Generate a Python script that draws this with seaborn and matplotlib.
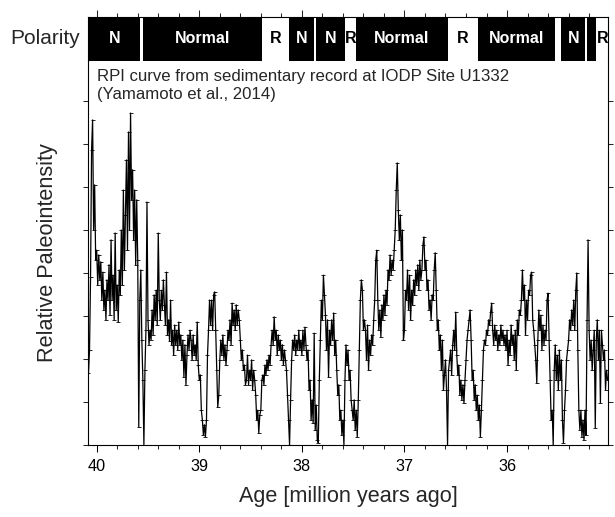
import numpy as np
import pandas as pd
import seaborn as sns
import matplotlib.pyplot as plt
from matplotlib.ticker import MultipleLocator

# Age of each RPI sample (million years ago)
age = [
    40.08, 40.07, 40.06, 40.05, 40.04, 40.03, 40.02, 40.01, 40.00, 39.99,
    39.98, 39.97, 39.96, 39.95, 39.94, 39.93, 39.92, 39.91, 39.90, 39.89,
    39.88, 39.87, 39.86, 39.85, 39.84, 39.83, 39.82, 39.81, 39.80, 39.79,
    39.78, 39.77, 39.76, 39.75, 39.74, 39.73, 39.72, 39.71, 39.70, 39.69,
    39.68, 39.67, 39.66, 39.65, 39.64, 39.63, 39.62, 39.61, 39.60, 39.59,
    39.58, 39.57, 39.56, 39.55, 39.54, 39.53, 39.52, 39.51, 39.50, 39.49,
    39.48, 39.47, 39.46, 39.45, 39.44, 39.43, 39.42, 39.41, 39.40, 39.39,
    39.38, 39.37, 39.36, 39.35, 39.34, 39.33, 39.32, 39.31, 39.30, 39.29,
    39.28, 39.27, 39.26, 39.25, 39.24, 39.23, 39.22, 39.21, 39.20, 39.19,
    39.18, 39.17, 39.16, 39.15, 39.14, 39.13, 39.12, 39.11, 39.10, 39.09,
    39.08, 39.07, 39.06, 39.05, 39.04, 39.03, 39.02, 39.01, 39.00, 38.99,
    38.98, 38.97, 38.96, 38.95, 38.94, 38.93, 38.92, 38.91, 38.90, 38.89,
    38.88, 38.87, 38.86, 38.85, 38.84, 38.83, 38.82, 38.81, 38.80, 38.79,
    38.78, 38.77, 38.76, 38.75, 38.74, 38.73, 38.72, 38.71, 38.70, 38.69,
    38.68, 38.67, 38.66, 38.65, 38.64, 38.63, 38.62, 38.61, 38.60, 38.59,
    38.58, 38.57, 38.56, 38.55, 38.54, 38.53, 38.52, 38.51, 38.50, 38.49,
    38.48, 38.47, 38.46, 38.45, 38.44, 38.43, 38.42, 38.41, 38.40, 38.39,
    38.38, 38.37, 38.36, 38.35, 38.34, 38.33, 38.32, 38.31, 38.30, 38.29,
    38.28, 38.27, 38.26, 38.25, 38.24, 38.23, 38.22, 38.21, 38.20, 38.19,
    38.18, 38.17, 38.16, 38.15, 38.14, 38.13, 38.12, 38.11, 38.10, 38.09,
    38.08, 38.07, 38.06, 38.05, 38.04, 38.03, 38.02, 38.01, 38.00, 37.99,
    37.98, 37.97, 37.96, 37.95, 37.94, 37.93, 37.92, 37.91, 37.90, 37.89,
    37.88, 37.87, 37.86, 37.85, 37.84, 37.83, 37.82, 37.81, 37.80, 37.79,
    37.78, 37.77, 37.76, 37.75, 37.74, 37.73, 37.72, 37.71, 37.70, 37.69,
    37.68, 37.67, 37.66, 37.65, 37.64, 37.63, 37.62, 37.61, 37.60, 37.59,
    37.58, 37.57, 37.56, 37.55, 37.54, 37.53, 37.52, 37.51, 37.50, 37.49,
    37.48, 37.47, 37.46, 37.45, 37.44, 37.43, 37.42, 37.41, 37.40, 37.39,
    37.38, 37.37, 37.36, 37.35, 37.34, 37.33, 37.32, 37.31, 37.30, 37.29,
    37.28, 37.27, 37.26, 37.25, 37.24, 37.23, 37.22, 37.21, 37.20, 37.19,
    37.18, 37.17, 37.16, 37.15, 37.14, 37.13, 37.12, 37.11, 37.10, 37.09,
    37.08, 37.07, 37.06, 37.05, 37.04, 37.03, 37.02, 37.01, 37.00, 36.99,
    36.98, 36.97, 36.96, 36.95, 36.94, 36.93, 36.92, 36.91, 36.90, 36.89,
    36.88, 36.87, 36.86, 36.85, 36.84, 36.83, 36.82, 36.81, 36.80, 36.79,
    36.78, 36.77, 36.76, 36.75, 36.74, 36.73, 36.72, 36.71, 36.70, 36.69,
    36.68, 36.67, 36.66, 36.65, 36.64, 36.63, 36.62, 36.61, 36.60, 36.59,
    36.58, 36.57, 36.56, 36.55, 36.54, 36.53, 36.52, 36.51, 36.50, 36.49,
    36.48, 36.47, 36.46, 36.45, 36.44, 36.43, 36.42, 36.41, 36.40, 36.39,
    36.38, 36.37, 36.36, 36.35, 36.34, 36.33, 36.32, 36.31, 36.30, 36.29,
    36.28, 36.27, 36.26, 36.25, 36.24, 36.23, 36.22, 36.21, 36.20, 36.19,
    36.18, 36.17, 36.16, 36.15, 36.14, 36.13, 36.12, 36.11, 36.10, 36.09,
    36.08, 36.07, 36.06, 36.05, 36.04, 36.03, 36.02, 36.01, 36.00, 35.99,
    35.98, 35.97, 35.96, 35.95, 35.94, 35.93, 35.92, 35.91, 35.90, 35.89,
    35.88, 35.87, 35.86, 35.85, 35.84, 35.83, 35.82, 35.81, 35.80, 35.79,
    35.78, 35.77, 35.76, 35.75, 35.74, 35.73, 35.72, 35.71, 35.70, 35.69,
    35.68, 35.67, 35.66, 35.65, 35.64, 35.63, 35.62, 35.61, 35.60, 35.59,
    35.58, 35.57, 35.56, 35.55, 35.54, 35.53, 35.52, 35.51, 35.50, 35.49,
    35.48, 35.47, 35.46, 35.45, 35.44, 35.43, 35.42, 35.41, 35.40, 35.39,
    35.38, 35.37, 35.36, 35.35, 35.34, 35.33, 35.32, 35.31, 35.30, 35.29,
    35.28, 35.27, 35.26, 35.25, 35.24, 35.23, 35.22, 35.21, 35.20, 35.19,
    35.18, 35.17, 35.16, 35.15, 35.14, 35.13, 35.12, 35.11, 35.10, 35.09,
    35.08, 35.07, 35.06, 35.05, 35.04, 35.03, 35.02,
]

# Relative paleointensity (arbitrary units, one unit per y tick)
rpi = [
    1.67, 2.21, 3.91, 6.86, 7.56, 5.00, 6.05, 4.30, 4.53, 3.72,
    4.42, 3.84, 4.26, 3.37, 4.02, 3.14, 3.60, 2.91, 3.84, 3.37,
    4.19, 3.02, 4.77, 3.37, 3.95, 2.91, 4.93, 3.14, 3.72, 2.86,
    4.07, 3.49, 5.00, 3.72, 5.93, 4.07, 5.35, 6.63, 4.53, 7.28,
    5.00, 7.72, 5.70, 6.40, 4.77, 5.93, 4.19, 5.70, 4.30, 0.42,
    3.37, 4.07, 2.44, 1.51, 0.00, 1.74, 2.67, 5.65, 2.91, 2.33,
    2.67, 2.44, 3.14, 2.56, 3.49, 2.91, 3.60, 2.79, 4.93, 3.37,
    2.91, 3.60, 3.14, 3.84, 3.26, 2.79, 4.02, 2.56, 2.91, 2.42,
    3.37, 2.33, 2.67, 2.09, 2.79, 2.33, 2.67, 2.21, 2.86, 2.33,
    2.56, 1.98, 2.44, 1.58, 2.33, 1.40, 2.09, 2.56, 2.21, 2.67,
    2.44, 1.98, 2.56, 2.09, 2.33, 1.98, 2.86, 1.86, 1.51, 1.63,
    0.81, 0.58, 0.23, 0.47, 0.19, 0.58, 2.09, 2.67, 3.37, 2.79,
    3.37, 2.67, 3.49, 3.56, 2.67, 1.74, 0.88, 1.16, 1.98, 2.44,
    2.09, 2.56, 1.98, 2.33, 1.86, 2.21, 2.67, 2.44, 2.91, 2.33,
    3.30, 2.79, 3.14, 2.67, 3.26, 2.79, 3.14, 2.91, 2.44, 1.98,
    2.21, 1.74, 1.86, 1.40, 1.51, 2.09, 1.40, 1.74, 1.51, 1.98,
    1.28, 1.74, 1.51, 1.16, 0.58, 0.81, 0.28, 0.70, 0.81, 1.51,
    1.63, 1.40, 1.86, 1.63, 1.98, 1.74, 2.09, 1.86, 2.33, 2.67,
    2.33, 2.98, 2.44, 2.67, 2.09, 2.56, 2.21, 2.44, 1.98, 2.33,
    1.86, 2.21, 1.98, 1.74, 1.16, 0.58, 0.00, 1.05, 1.98, 2.44,
    2.21, 2.56, 2.09, 2.44, 2.21, 2.67, 2.21, 2.44, 2.09, 2.67,
    2.21, 2.74, 2.33, 1.98, 2.21, 1.28, 1.51, 0.58, 1.05, 0.51,
    2.60, 0.35, 0.93, 0.12, 0.05, 1.51, 2.44, 3.37, 2.91, 3.95,
    3.49, 3.02, 2.21, 2.91, 1.58, 2.67, 2.33, 2.91, 2.44, 3.07,
    2.09, 2.44, 1.74, 1.16, 1.40, 0.58, 0.81, 0.23, 0.58, 0.00,
    1.51, 2.33, 1.86, 2.21, 1.51, 1.74, 1.05, 0.81, 0.58, 1.05,
    0.35, 0.81, 0.19, 1.05, 2.21, 3.37, 3.84, 3.60, 2.67, 2.91,
    2.67, 1.98, 2.79, 1.74, 2.44, 2.09, 2.56, 2.33, 2.91, 3.37,
    4.30, 4.53, 3.37, 2.67, 3.14, 2.51, 3.26, 2.91, 3.49, 3.02,
    3.60, 3.26, 4.07, 3.84, 4.42, 3.95, 4.30, 4.07, 4.53, 5.00,
    5.93, 6.56, 5.47, 4.77, 5.35, 4.30, 5.00, 2.44, 2.67, 3.60,
    3.37, 4.07, 3.14, 3.95, 2.91, 3.60, 3.26, 3.84, 3.49, 4.07,
    3.72, 4.19, 3.60, 4.30, 3.84, 4.07, 4.65, 4.84, 4.07, 4.30,
    3.60, 3.84, 3.14, 3.37, 2.91, 3.49, 3.37, 4.07, 4.47, 3.60,
    2.67, 2.91, 2.21, 2.56, 1.74, 2.44, 1.28, 1.63, 1.98, 1.28,
    0.00, 1.74, 1.98, 2.21, 1.63, 2.33, 2.67, 2.21, 3.09, 2.09,
    1.63, 1.86, 1.16, 1.51, 1.05, 1.40, 0.98, 1.51, 1.98, 2.44,
    2.67, 2.91, 3.14, 2.44, 1.51, 1.74, 1.05, 1.40, 0.81, 1.16,
    0.58, 0.93, 0.19, 0.81, 1.51, 2.21, 2.44, 2.33, 2.67, 2.56,
    2.91, 2.79, 3.09, 3.30, 2.67, 2.33, 2.79, 2.44, 2.67, 2.21,
    2.56, 2.33, 2.79, 2.44, 2.67, 2.33, 2.56, 2.21, 2.67, 1.86,
    2.44, 2.09, 2.79, 2.33, 2.56, 1.98, 2.67, 1.74, 2.91, 2.56,
    3.14, 3.02, 3.37, 4.07, 3.37, 3.72, 2.56, 3.37, 2.91, 3.60,
    3.49, 3.95, 4.02, 2.91, 2.67, 2.33, 1.98, 1.44, 2.44, 3.14,
    2.67, 3.02, 2.21, 2.79, 2.33, 2.67, 2.44, 3.37, 3.53, 2.44,
    1.51, 0.58, 0.81, 0.00, 1.74, 2.33, 1.51, 2.09, 1.28, 2.21,
    1.51, 1.98, 0.58, 0.05, 0.81, 1.28, 1.98, 2.21, 2.44, 2.91,
    2.67, 3.14, 2.79, 3.37, 2.67, 3.60, 4.00, 2.21, 0.81, 0.35,
    0.81, 0.19, 0.58, 0.12, 0.81, 0.23, 2.91, 4.77, 2.67, 1.98,
    2.44, 1.74, 2.21, 2.67, 0.40, 2.44, 2.91, 1.98, 2.67, 0.98,
    2.67, 2.33, 1.98, 2.21, 1.28, 1.74, 1.51,
]

# Polarity chrons: older / younger boundary, normal (1) or reversed (0), label
chron_old = [40.08, 39.575, 39.55, 38.39, 38.13, 37.88, 37.865, 37.58,
             37.47, 36.58, 36.28, 35.53, 35.47, 35.24, 35.225, 35.13]
chron_young = [39.575, 39.55, 38.39, 38.13, 37.88, 37.865, 37.58, 37.47,
               36.58, 36.28, 35.53, 35.47, 35.24, 35.225, 35.13, 35.00]
chron_normal = [1, 0, 1, 0, 1, 0, 1, 0, 1, 0, 1, 0, 1, 0, 1, 0]
chron_label = ['N', '', 'Normal', 'R', 'N', '', 'N', 'R',
               'Normal', 'R', 'Normal', '', 'N', '', '', 'R']

age_ticks = [40, 39, 38, 37, 36]
age_tick_labels = ['40', '39', '38', '37', '36']

df = pd.DataFrame({'age': age, 'rpi': rpi})

sns.set_style('ticks')
plt.rcParams['font.family'] = ['Liberation Sans', 'DejaVu Sans']
plt.rcParams['axes.linewidth'] = 0.8

fig = plt.figure(figsize=(6.15, 5.17), dpi=100)
ax = fig.add_axes([0.1439, 0.1393, 0.8447, 0.7427])
ax_pol = fig.add_axes([0.1439, 0.8825, 0.8447, 0.0846])

xlim = (40.080, 35.016)

# RPI curve
sns.lineplot(data=df, x='age', y='rpi', ax=ax, color='black', linewidth=0.9,
             marker='_', markersize=2.2, markeredgewidth=0.6,
             markeredgecolor='black', estimator=None, sort=False)
ax.set_xlim(*xlim)
ax.set_ylim(0, 8.93)
ax.set_xticks(age_ticks)
ax.set_xticklabels(age_tick_labels)
ax.xaxis.set_minor_locator(MultipleLocator(0.2))
ax.set_yticks(range(0, 9))
ax.set_yticklabels([])
ax.tick_params(axis='x', which='major', direction='out', length=5, width=0.75,
               labelsize=11.7, pad=5, colors='black')
ax.tick_params(axis='x', which='minor', direction='out', length=3, width=0.75)
ax.tick_params(axis='y', which='major', left=True, right=True, direction='out',
               length=3.6, width=0.75, labelleft=False)
ax.spines['top'].set_visible(False)
for s in ['left', 'right', 'bottom']:
    ax.spines[s].set_color('black')

ax.set_xlabel('Age [million years ago]', fontsize=15.6)
ax.xaxis.set_label_coords(0.5, -0.135)
ax.xaxis.label.set_va('center')
ax.set_ylabel('Relative Paleointensity', fontsize=15.6)
ax.yaxis.set_label_coords(-0.078, 0.5)
ax.yaxis.label.set_va('center')

ax.text(0.0164, 0.979,
        'RPI curve from sedimentary record at IODP Site U1332\n(Yamamoto et al., 2014)',
        transform=ax.transAxes, ha='left', va='top', fontsize=12.1,
        linespacing=1.25)

# Polarity bar
for old, young, normal, label in zip(chron_old, chron_young, chron_normal, chron_label):
    ax_pol.axvspan(young, old, color='black' if normal else 'white', lw=0)
    if label:
        ax_pol.text((old + young) / 2, 0.5, label, ha='center', va='center',
                    fontsize=11.5, fontweight='bold',
                    color='white' if normal else 'black')
ax_pol.set_xlim(*xlim)
ax_pol.set_ylim(0, 1)
ax_pol.set_yticks([])
ax_pol.set_xticks(age_ticks)
ax_pol.xaxis.set_minor_locator(MultipleLocator(0.2))
ax_pol.tick_params(axis='x', which='both', bottom=False, top=True,
                   labelbottom=False, labeltop=False, direction='out', width=0.75)
ax_pol.tick_params(axis='x', which='major', length=5)
ax_pol.tick_params(axis='x', which='minor', length=3)
ax_pol.spines['bottom'].set_visible(False)
for s in ['left', 'right', 'top']:
    ax_pol.spines[s].set_color('black')
ax_pol.text(-0.0164, 0.5, 'Polarity', transform=ax_pol.transAxes,
            ha='right', va='center', fontsize=15)

fig.savefig('out.png', dpi=100)
